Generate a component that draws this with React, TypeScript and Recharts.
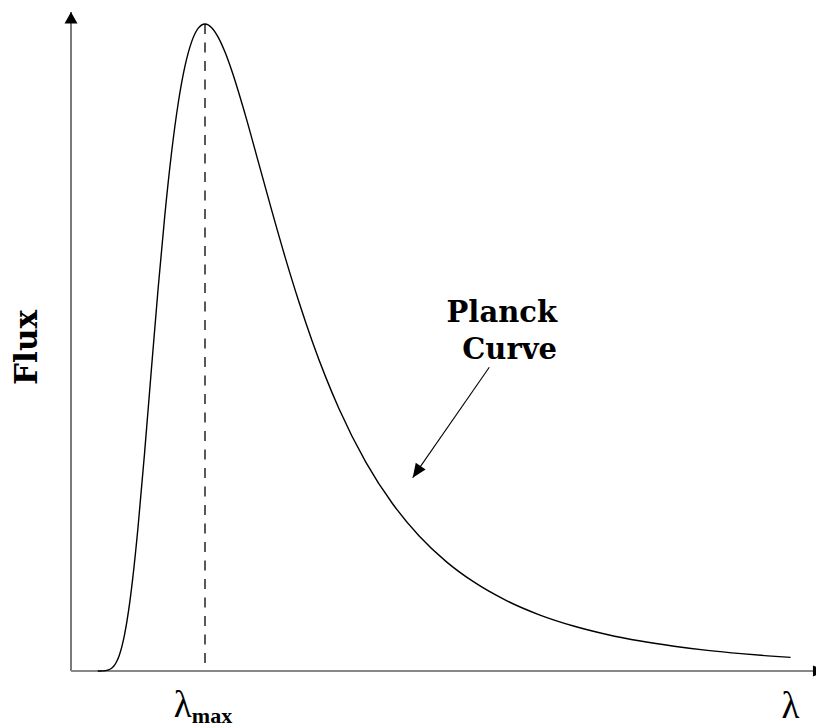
import React from 'react';
import { ComposedChart, Line, XAxis, YAxis, ReferenceLine, ReferenceDot } from 'recharts';

// wavelength in units of lambda_max
const lambdaRatio = [0.2, 0.22, 0.24, 0.26, 0.28, 0.3, 0.32, 0.34, 0.36, 0.38, 0.4, 0.43, 0.46, 0.5, 0.55, 0.6, 0.65, 0.7, 0.75, 0.8, 0.85, 0.9, 0.95, 1.0, 1.05, 1.1, 1.15, 1.2, 1.3, 1.4, 1.5, 1.6, 1.7, 1.8, 1.9, 2.0, 2.2, 2.4, 2.6, 2.8, 3.0, 3.25, 3.5, 3.75, 4.0, 4.25, 4.5, 4.75, 5.0, 5.2, 5.37];
// flux normalised to the peak
const fluxValues = [0.0, 0.0, 0.0002, 0.0006, 0.0016, 0.0038, 0.0077, 0.0143, 0.0241, 0.038, 0.0565, 0.0936, 0.1419, 0.2218, 0.3394, 0.4663, 0.5909, 0.7041, 0.8006, 0.8775, 0.9344, 0.9724, 0.9936, 1.0, 0.9943, 0.979, 0.9562, 0.9277, 0.86, 0.7854, 0.7103, 0.6382, 0.5711, 0.5098, 0.4546, 0.4054, 0.3229, 0.2585, 0.2083, 0.1691, 0.1384, 0.1088, 0.0865, 0.0696, 0.0565, 0.0463, 0.0383, 0.0319, 0.0268, 0.0234, 0.021];
const xTickValues = [1, 5.37];
const xTickLabels = ['λmax', 'λ'];
const peakLambda = 1;
const peakFlux = 1;

const data = lambdaRatio.map((u, i) => ({ u, flux: fluxValues[i] }));

const X_MAX = 5.5597;
const Y_MAX = 1.01855;

const arrowStart = { x: 3.1216, y: 0.4694 };
const arrowTip = { x: 2.55, y: 0.2988 };

const AxisTick = (props: any) => {
  const { x, y, payload } = props;
  const idx = xTickValues.indexOf(payload.value);
  const label = xTickLabels[idx];
  if (label === 'λmax') {
    return (
      <text x={x - 2} y={y + 38} textAnchor="middle" fill="#000">
        <tspan fontFamily="'Liberation Serif', serif" fontSize={37}>λ</tspan>
        <tspan fontFamily="'Liberation Serif', serif" fontWeight="bold" fontSize={22} dy={6}>max</tspan>
      </text>
    );
  }
  return (
    <text x={x} y={y + 39} textAnchor="middle" fill="#000" fontFamily="'Liberation Serif', serif" fontSize={37}>
      {label}
    </text>
  );
};

const UpArrow = (props: any) => {
  const { cx, cy } = props;
  return <polygon points={`${cx},${cy} ${cx - 6.5},${cy + 11.5} ${cx + 6.5},${cy + 11.5}`} fill="#000" />;
};

const RightArrow = (props: any) => {
  const { cx, cy } = props;
  return <polygon points={`${cx},${cy - 5.5} ${cx + 13},${cy} ${cx},${cy + 5.5}`} fill="#000" />;
};

const AnnotArrowHead = (props: any) => {
  const { cx, cy } = props;
  const angle = (Math.atan2(110.4, -76.6) * 180) / Math.PI;
  return (
    <polygon
      points={`0,0 -14,-6 -14,6`}
      transform={`translate(${cx},${cy}) rotate(${angle})`}
      fill="#000"
    />
  );
};

const PlanckLabel = (props: any) => {
  const { cx, cy } = props;
  return (
    <text x={cx} y={cy} textAnchor="end" fontFamily="'DejaVu Serif', serif" fontWeight="bold" fontSize={29} fill="#000">
      <tspan x={cx} y={cy}>Planck</tspan>
      <tspan x={cx} y={cy + 36.5}>Curve</tspan>
    </text>
  );
};

const FluxLabel = (props: any) => {
  const { cx, cy } = props;
  return (
    <text
      x={cx}
      y={cy}
      textAnchor="middle"
      transform={`rotate(-90, ${cx}, ${cy})`}
      fontFamily="'DejaVu Serif', serif"
      fontWeight="bold"
      fontSize={31}
      fill="#000"
    >
      Flux
    </text>
  );
};

export default function App() {
  return (
    <div style={{ position: 'absolute', left: 0, top: 0, width: 816, height: 728, background: '#fff' }}>
      <ComposedChart width={816} height={728} data={data} margin={{ top: 12, right: 0, bottom: 0, left: 0 }}>
        <XAxis
          type="number"
          dataKey="u"
          domain={[0, X_MAX]}
          ticks={xTickValues}
          interval={0}
          axisLine={false}
          tickLine={false}
          tick={<AxisTick />}
          height={57}
        />
        <YAxis type="number" domain={[0, Y_MAX]} width={71} axisLine={false} tickLine={false} tick={false} />
        <ReferenceLine x={0} stroke="#333" strokeWidth={1.3} ifOverflow="visible" />
        <ReferenceLine y={0} stroke="#888" strokeWidth={2.2} ifOverflow="visible" />
        <ReferenceDot x={0} y={Y_MAX} r={0} ifOverflow="visible" shape={<UpArrow />} />
        <ReferenceDot x={5.537} y={0} r={0} ifOverflow="visible" shape={<RightArrow />} />
        <ReferenceLine
          segment={[{ x: peakLambda, y: peakFlux }, { x: peakLambda, y: 0 }]}
          stroke="#222"
          strokeWidth={1.5}
          strokeDasharray="10 8.5"
          ifOverflow="visible"
        />
        <Line
          type="monotone"
          dataKey="flux"
          stroke="#000"
          strokeWidth={1.4}
          dot={false}
          isAnimationActive={false}
        />
        <ReferenceLine
          segment={[arrowStart, arrowTip]}
          stroke="#000"
          strokeWidth={1.1}
          ifOverflow="visible"
        />
        <ReferenceDot x={arrowTip.x} y={arrowTip.y} r={0} ifOverflow="visible" shape={<AnnotArrowHead />} />
        <ReferenceDot x={3.627} y={0.5394} r={0} ifOverflow="visible" shape={<PlanckLabel />} />
        <ReferenceDot x={-0.2537} y={0.5} r={0} ifOverflow="visible" shape={<FluxLabel />} />
      </ComposedChart>
    </div>
  );
}
